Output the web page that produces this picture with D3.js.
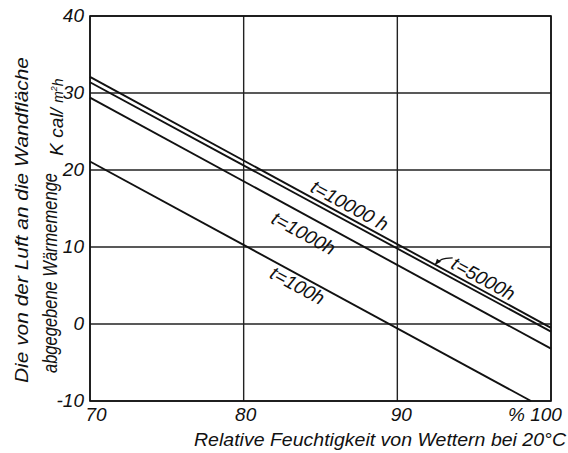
<!DOCTYPE html>
<html>
<head>
<meta charset="utf-8">
<script src="https://cdn.jsdelivr.net/npm/d3@7"></script>
<style>
  body { margin: 0; background: #fff; }
  text { font-family: "Liberation Sans", Arial, sans-serif; font-style: italic; fill: #111; }
</style>
</head>
<body>
<script>
// chart data: relative humidity (%) vs heat given off (kcal/m2h)
var xTicks = [70, 80, 90, 100];
var xTickLabels = ["70", "80", "90", "% 100"];
var yTicks = [-10, 0, 10, 20, 30, 40];
var yTickLabels = ["-10", "0", "10", "20", "30", "40"];

var seriesNames = ["t=10000 h", "t=5000h", "t=1000h", "t=100h"];
var seriesStart = [[70, 32.1], [70, 31.4], [70, 29.4], [70, 21.1]];
var seriesEnd = [[100, -0.5], [100, -1.0], [100, -3.2], [98.7, -10]];
// where the label sits, in data units
var labelPos = [[86.9, 15.4], [95.6, 5.9], [83.9, 11.8], [83.5, 5.0]];
// leader of the t=5000h label: tip, bend, end
var leader = [[92.45, 7.7], [92.9, 8.4], [93.6, 8.6]];

var w = 568;
var h = 453;

var svg = d3.select("body")
            .append("svg")
            .attr("width", w)
            .attr("height", h);

var xScale = d3.scaleLinear()
               .domain([70, 100])
               .range([90, 551]);
var yScale = d3.scaleLinear()
               .domain([-10, 40])
               .range([401, 16]);

// grid lines
svg.selectAll(".vgrid")
   .data(xTicks)
   .enter()
   .append("line")
   .attr("x1", function(d) { return xScale(d); })
   .attr("x2", function(d) { return xScale(d); })
   .attr("y1", yScale(40))
   .attr("y2", yScale(-10))
   .attr("stroke", "#222")
   .attr("stroke-width", 1.4);

svg.selectAll(".hgrid")
   .data(yTicks)
   .enter()
   .append("line")
   .attr("x1", xScale(70))
   .attr("x2", xScale(100))
   .attr("y1", function(d) { return yScale(d); })
   .attr("y2", function(d) { return yScale(d); })
   .attr("stroke", "#222")
   .attr("stroke-width", 1.4);

// frame
svg.append("rect")
   .attr("x", xScale(70))
   .attr("y", yScale(40))
   .attr("width", xScale(100) - xScale(70))
   .attr("height", yScale(-10) - yScale(40))
   .attr("fill", "none")
   .attr("stroke", "#111")
   .attr("stroke-width", 1.6);

// series lines
var line = d3.line()
             .x(function(d) { return xScale(d[0]); })
             .y(function(d) { return yScale(d[1]); });

svg.selectAll(".series")
   .data(seriesNames)
   .enter()
   .append("path")
   .attr("d", function(d, i) { return line([seriesStart[i], seriesEnd[i]]); })
   .attr("fill", "none")
   .attr("stroke", "#111")
   .attr("stroke-width", 1.9);

// angle of the lines on screen
var dx = xScale(seriesEnd[0][0]) - xScale(seriesStart[0][0]);
var dy = yScale(seriesEnd[0][1]) - yScale(seriesStart[0][1]);
var angle = Math.atan2(dy, dx) * 180 / Math.PI;

svg.selectAll(".lab")
   .data(seriesNames)
   .enter()
   .append("text")
   .attr("transform", function(d, i) {
     return "translate(" + xScale(labelPos[i][0]) + "," + yScale(labelPos[i][1]) +
            ") rotate(" + angle + ")";
   })
   .attr("text-anchor", "middle")
   .attr("dy", "0.35em")
   .style("font-size", "19px")
   .text(function(d) { return d; });

// leader for t=5000h with a small arrow head
svg.append("path")
   .attr("d", line.curve(d3.curveNatural)(leader))
   .attr("fill", "none")
   .attr("stroke", "#111")
   .attr("stroke-width", 1.2);

var tip = [xScale(leader[0][0]), yScale(leader[0][1])];
svg.append("path")
   .attr("d", "M" + tip[0] + "," + tip[1] + " l2,-6 l4,3 z")
   .attr("fill", "#111");

// tick labels
var xShift = [6, 2, 4, -16];
svg.selectAll(".xt")
   .data(xTicks)
   .enter()
   .append("text")
   .attr("x", function(d, i) { return xScale(d) + xShift[i]; })
   .attr("y", 421)
   .attr("text-anchor", "middle")
   .style("font-size", "19px")
   .text(function(d, i) { return xTickLabels[i]; });

svg.selectAll(".yt")
   .data(yTicks)
   .enter()
   .append("text")
   .attr("x", 84)
   .attr("y", function(d) { return yScale(d) + 6; })
   .attr("text-anchor", "end")
   .style("font-size", "19px")
   .text(function(d, i) { return yTickLabels[i]; });

// axis titles
svg.append("text")
   .attr("x", 380)
   .attr("y", 446)
   .attr("text-anchor", "middle")
   .attr("textLength", 372)
   .attr("lengthAdjust", "spacingAndGlyphs")
   .style("font-size", "19px")
   .text("Relative Feuchtigkeit von Wettern bei 20°C");

svg.append("text")
   .attr("transform", "translate(28,220) rotate(-90)")
   .attr("text-anchor", "middle")
   .attr("textLength", 326)
   .attr("lengthAdjust", "spacingAndGlyphs")
   .style("font-size", "19px")
   .text("Die von der Luft an die Wandfläche");

svg.append("text")
   .attr("transform", "translate(57,273) rotate(-90)")
   .attr("text-anchor", "middle")
   .attr("textLength", 200)
   .attr("lengthAdjust", "spacingAndGlyphs")
   .style("font-size", "20px")
   .text("abgegebene Wärmemenge");

var unit = svg.append("text")
   .attr("transform", "translate(63,117) rotate(-90)")
   .attr("text-anchor", "middle")
   .style("font-size", "19px");
unit.append("tspan").text("K cal/ ");
unit.append("tspan").style("font-size", "14px").text("m");
unit.append("tspan").style("font-size", "9px").attr("dy", -6).text("2");
unit.append("tspan").style("font-size", "14px").attr("dy", 6).text("h");
</script>
</body>
</html>
